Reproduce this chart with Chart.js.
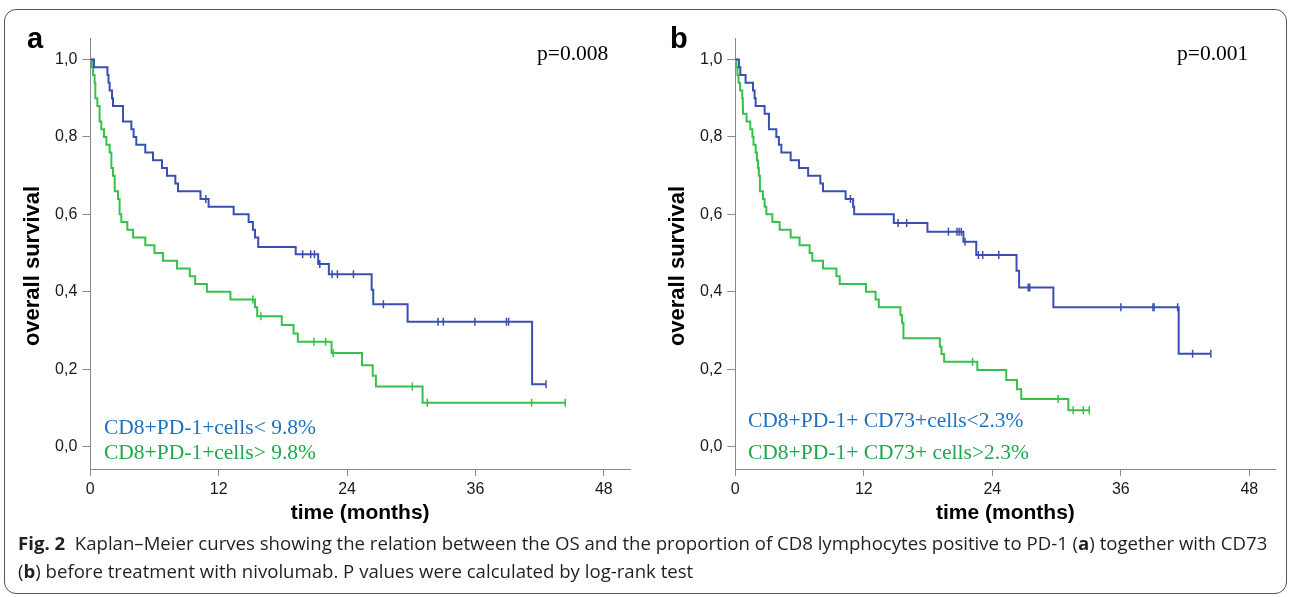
<!DOCTYPE html>
<html>
<head>
<meta charset="utf-8">
<script src="https://cdn.jsdelivr.net/npm/chart.js@4.4.1/dist/chart.umd.min.js"></script>
<style>
  html, body { margin: 0; padding: 0; background: #fff; }
  body { width: 1290px; height: 597px; position: relative; overflow: hidden; }
  .frame { position: absolute; left: 4px; top: 9px; width: 1283px; height: 585px; border: 1px solid #555; border-radius: 12px; box-sizing: border-box; }
  .panel { position: absolute; top: 0; }
  .txt { position: absolute; white-space: nowrap; line-height: 1; }
  .serif { font-family: 'Liberation Serif', 'Times New Roman', serif; font-size: 21.5px; }
  .letter { font-family: 'Liberation Sans', Arial, sans-serif; font-weight: bold; font-size: 29px; color: #000; }
  .ytitle { position: absolute; width: 200px; text-align: center; font-family: 'Liberation Sans', Arial, sans-serif; font-weight: bold; font-size: 22px; line-height: 1; color: #000; transform: rotate(-90deg); white-space: nowrap; }
  .caption { position: absolute; left: 18px; top: 529px; font-family: 'Open Sans', 'Noto Sans', sans-serif; font-size: 18.6px; line-height: 28px; color: #231f20; white-space: nowrap; }
</style>
</head>
<body>
<div class="frame"></div>

<canvas id="chartA" class="panel" width="645" height="540" style="left:0px;width:645px;height:540px"></canvas>
<canvas id="chartB" class="panel" width="645" height="540" style="left:645px;width:645px;height:540px"></canvas>

<!-- panel letters -->
<div class="txt letter" style="left:27px;top:24px">a</div>
<div class="txt letter" style="left:670px;top:24px">b</div>

<!-- y titles -->
<div class="ytitle" style="left:-68px;top:255px">overall survival</div>
<div class="ytitle" style="left:577px;top:255px">overall survival</div>

<!-- p values -->
<div class="txt serif" style="left:537px;top:43px;color:#000">p=0.008</div>
<div class="txt serif" style="left:1177px;top:43px;color:#000">p=0.001</div>

<!-- group labels -->
<div class="txt serif" style="left:104px;top:417px;color:#1e72c0">CD8+PD-1+cells&lt; 9.8%</div>
<div class="txt serif" style="left:104px;top:442px;color:#1fa84e">CD8+PD-1+cells&gt; 9.8%</div>
<div class="txt serif" style="left:748px;top:410px;color:#1e72c0">CD8+PD-1+ CD73+cells&lt;2.3%</div>
<div class="txt serif" style="left:748px;top:442px;color:#1fa84e">CD8+PD-1+ CD73+ cells&gt;2.3%</div>

<div class="caption"><b>Fig. 2</b>&nbsp; Kaplan–Meier curves showing the relation between the OS and the proportion of CD8 lymphocytes positive to PD-1 (<b>a</b>) together with CD73<br>(<b>b</b>) before treatment with nivolumab. P values were calculated by log-rank test</div>

<script>
// Pannello a: CD8+PD-1+ cells (< 9.8% / > 9.8%)
const aLowTime = [0.35, 1.6, 1.7, 1.81, 2.03, 2.12, 3.06, 3.84, 4.05, 4.3, 5.14, 5.86, 6.7, 7.17, 7.95, 8.2, 10.3, 11.06, 13.4, 14.8, 15.2, 15.4, 15.7, 19.2, 21.3, 22.3, 26.3, 26.45, 29.66, 41.3];
const aLowSurv = [0.98, 0.96, 0.94, 0.92, 0.90, 0.88, 0.84, 0.82, 0.80, 0.78, 0.76, 0.74, 0.72, 0.70, 0.68, 0.66, 0.64, 0.62, 0.60, 0.58, 0.56, 0.54, 0.516, 0.497, 0.472, 0.445, 0.405, 0.368, 0.3225, 0.161];
const aLowCens = [10.8, 19.85, 20.6, 20.95, 21.45, 22.6, 23.1, 24.6, 27.4, 32.5, 33.0, 35.95, 38.9, 39.1, 42.6];

const aHighTime = [0.15, 0.25, 0.4, 0.47, 0.66, 0.87, 1.03, 1.28, 1.5, 1.81, 1.97, 2.12, 2.28, 2.59, 2.74, 2.9, 3.46, 4.0, 5.14, 6.0, 6.8, 8.1, 9.3, 9.8, 10.9, 13.1, 15.4, 15.6, 17.9, 19.0, 19.4, 22.55, 25.4, 26.4, 26.7, 31.06];
const aHighSurv = [0.98, 0.96, 0.94, 0.90, 0.88, 0.84, 0.82, 0.80, 0.78, 0.76, 0.72, 0.70, 0.66, 0.64, 0.60, 0.58, 0.56, 0.54, 0.52, 0.50, 0.48, 0.46, 0.44, 0.42, 0.40, 0.38, 0.36, 0.337, 0.314, 0.292, 0.271, 0.242, 0.21, 0.183, 0.155, 0.113];
const aHighCens = [15.2, 15.95, 20.9, 22.0, 22.7, 30.1, 31.5, 41.25, 44.4];

// Pannello b: CD8+PD-1+ CD73+ cells (< 2.3% / > 2.3%)
const bLowTime = [0.34, 0.47, 0.96, 1.65, 1.8, 1.9, 2.74, 3.14, 3.83, 4.07, 4.3, 5.17, 5.95, 6.8, 7.94, 8.19, 10.3, 11.0, 11.1, 14.8, 17.94, 21.3, 22.5, 26.26, 26.5, 29.7, 41.4];
const bLowSurv = [0.98, 0.96, 0.94, 0.92, 0.90, 0.88, 0.86, 0.82, 0.80, 0.78, 0.76, 0.74, 0.72, 0.70, 0.68, 0.66, 0.64, 0.62, 0.60, 0.578, 0.555, 0.529, 0.495, 0.454, 0.411, 0.36, 0.24];
const bLowCens = [10.75, 15.2, 16.0, 19.9, 20.7, 20.9, 21.1, 21.45, 22.7, 23.1, 24.6, 27.35, 27.5, 36.0, 39.0, 39.1, 41.3, 42.7, 44.4];

const bHighTime = [0.1, 0.2, 0.3, 0.45, 0.65, 0.7, 0.72, 1.05, 1.4, 1.6, 1.7, 1.9, 2.02, 2.12, 2.2, 2.3, 2.58, 2.74, 2.9, 3.46, 4.14, 5.17, 6.0, 6.94, 7.19, 8.19, 9.44, 9.75, 12.2, 13.1, 13.4, 15.42, 15.57, 15.7, 19.1, 19.25, 19.5, 22.6, 25.3, 26.3, 26.7, 31.1];
const bHighSurv = [0.98, 0.96, 0.94, 0.92, 0.90, 0.88, 0.86, 0.84, 0.82, 0.80, 0.78, 0.76, 0.74, 0.72, 0.70, 0.66, 0.64, 0.62, 0.60, 0.58, 0.56, 0.54, 0.52, 0.50, 0.48, 0.46, 0.44, 0.42, 0.40, 0.38, 0.36, 0.34, 0.32, 0.28, 0.258, 0.239, 0.219, 0.198, 0.172, 0.148, 0.123, 0.094];
const bHighCens = [22.15, 30.15, 31.55, 32.5, 33.05];

// Tick degli assi
const xTicks = [0, 12, 24, 36, 48];
const yTicks = [0, 0.2, 0.4, 0.6, 0.8, 1.0];

const BLUE = '#3a4fb2';
const GREEN = '#36c24a';
const AXIS = '#8a8a8a';

// sopravvivenza al tempo t (funzione a gradini)
function survAt(times, surv, t) {
    let s = 1;
    for (let i = 0; i < times.length; i++) {
        if (times[i] <= t) s = surv[i];
    }
    return s;
}

function curvePoints(times, surv, cens) {
    const pts = [{ x: 0, y: 1 }];
    times.forEach((t, i) => pts.push({ x: t, y: surv[i] }));
    const end = Math.max(times[times.length - 1], ...cens);
    pts.push({ x: end, y: survAt(times, surv, end) });
    return pts;
}

function censorPoints(times, surv, cens) {
    return cens.map(t => ({ x: t, y: survAt(times, surv, t) }));
}

function kmDatasets(times, surv, cens, color) {
    return [
        {
            type: 'line',
            data: curvePoints(times, surv, cens),
            stepped: true,
            borderColor: color,
            borderWidth: 2,
            pointRadius: 0,
            fill: false
        },
        {
            type: 'scatter',
            data: censorPoints(times, surv, cens),
            pointStyle: 'line',
            rotation: 90,
            pointRadius: 4,
            borderColor: color,
            borderWidth: 1.5,
            backgroundColor: color
        }
    ];
}

function createKmChart(canvasId, groups, rightPad) {
    const ctx = document.getElementById(canvasId).getContext('2d');
    const datasets = [];
    groups.forEach(g => datasets.push(...kmDatasets(g.times, g.surv, g.cens, g.color)));

    return new Chart(ctx, {
        type: 'line',
        data: { datasets: datasets },
        options: {
            responsive: false,
            animation: false,
            layout: { padding: { left: 0, top: 38.3, right: rightPad, bottom: 0 } },
            plugins: {
                legend: { display: false },
                tooltip: { enabled: false }
            },
            scales: {
                x: {
                    type: 'linear',
                    min: 0,
                    max: 50.45,
                    afterFit: s => { s.height = 71; },
                    afterBuildTicks: s => { s.ticks = xTicks.map(v => ({ value: v })); },
                    ticks: {
                        color: '#1a1a1a',
                        font: { family: 'Liberation Sans', size: 16 },
                        padding: 4,
                        maxRotation: 0,
                        autoSkip: false
                    },
                    grid: { drawOnChartArea: false, drawTicks: true, tickLength: 7, color: AXIS },
                    border: { display: true, color: AXIS, width: 1 },
                    title: {
                        display: true,
                        text: 'time (months)',
                        color: '#000',
                        font: { family: 'Liberation Sans', size: 21, weight: 'bold' },
                        padding: { top: 0, bottom: 14 }
                    }
                },
                y: {
                    type: 'linear',
                    min: -0.058,
                    max: 1.055,
                    afterFit: s => { s.width = 90.3; },
                    afterBuildTicks: s => { s.ticks = yTicks.map(v => ({ value: v })); },
                    ticks: {
                        color: '#1a1a1a',
                        font: { family: 'Liberation Sans', size: 16 },
                        padding: 5,
                        callback: v => v.toFixed(1).replace('.', ',')
                    },
                    grid: { drawOnChartArea: false, drawTicks: true, tickLength: 8, color: AXIS },
                    border: { display: true, color: AXIS, width: 1 }
                }
            }
        }
    });
}

createKmChart('chartA', [
    { times: aLowTime, surv: aLowSurv, cens: aLowCens, color: BLUE },
    { times: aHighTime, surv: aHighSurv, cens: aHighCens, color: GREEN }
], 15);

createKmChart('chartB', [
    { times: bLowTime, surv: bLowSurv, cens: bLowCens, color: BLUE },
    { times: bHighTime, surv: bHighSurv, cens: bHighCens, color: GREEN }
], 14.4);
</script>
</body>
</html>
